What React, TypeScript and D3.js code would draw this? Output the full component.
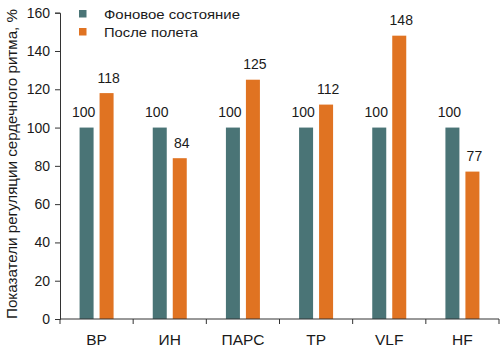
import * as d3 from 'd3'
import React, { useEffect, useRef } from 'react'

const categories = ['ВР', 'ИН', 'ПАРС', 'ТР', 'VLF', 'HF']
const seriesNames = ['Фоновое состояние', 'После полета']
const baseline = [100, 100, 100, 100, 100, 100]
const afterFlight = [118, 84, 125, 112, 148, 77]
const yTicks = [0, 20, 40, 60, 80, 100, 120, 140, 160]
const colors = ['#4a7476', '#e07322']

const width = 502
const height = 352
const font = '"Liberation Sans", Arial, Helvetica, sans-serif'

const App = (): JSX.Element => {
    const ref = useRef<SVGSVGElement>(null)

    useEffect(() => {
        const svg = d3.select(ref.current)
        svg.selectAll('*').remove()

        const left = 60
        const right = 499
        const bottom = 319
        const top = 12.7

        const x = d3.scaleBand().domain(categories).range([left, right])
        const inner = d3.scaleBand().domain(['0', '1']).range([0, 34]).paddingInner(0.3)
        const y = d3.scaleLinear().domain([0, 160]).range([bottom, top])

        const rows = categories.map((c, i) => ({ c, values: [baseline[i], afterFlight[i]] }))

        const groups = svg
            .selectAll('g.cat')
            .data(rows)
            .enter()
            .append('g')
            .attr('class', 'cat')
            .attr('transform', (d) => `translate(${(x(d.c) as number) + x.bandwidth() / 2 - 17},0)`)

        // bars
        groups
            .selectAll('rect')
            .data((d) => d.values.map((v, k) => ({ v, k })))
            .enter()
            .append('rect')
            .attr('x', (d) => inner(String(d.k)) as number)
            .attr('width', inner.bandwidth())
            .attr('y', (d) => y(d.v))
            .attr('height', (d) => bottom - y(d.v))
            .attr('fill', (d) => colors[d.k])

        // value labels, baseline slightly left, after-flight slightly right
        groups
            .selectAll('text')
            .data((d) => d.values.map((v, k) => ({ v, k })))
            .enter()
            .append('text')
            .attr('x', (d) => (inner(String(d.k)) as number) + inner.bandwidth() / 2 + (d.k === 0 ? -3 : 2))
            .attr('y', (d) => y(d.v) - 10.5)
            .attr('text-anchor', 'middle')
            .style('font-family', font)
            .style('font-size', '14px')
            .style('fill', '#1a1a1a')
            .text((d) => d.v)

        // y axis
        const yAxis = svg
            .append('g')
            .attr('transform', `translate(${left},0)`)
            .call(d3.axisLeft(y).tickValues(yTicks).tickSize(5).tickPadding(5))
        yAxis.select('.domain').attr('stroke', '#333')
        yAxis.selectAll('line').attr('stroke', '#333')
        yAxis
            .selectAll('text')
            .style('font-family', font)
            .style('font-size', '14px')
            .style('fill', '#1a1a1a')

        // x axis with ticks on band edges
        const xAxis = svg.append('g').attr('transform', `translate(0,${bottom})`)
        xAxis
            .append('line')
            .attr('x1', left)
            .attr('x2', right)
            .attr('stroke', '#333')
        const edges = categories.map((c) => x(c) as number).concat([right])
        xAxis
            .selectAll('line.tick')
            .data(edges)
            .enter()
            .append('line')
            .attr('class', 'tick')
            .attr('x1', (d) => d)
            .attr('x2', (d) => d)
            .attr('y1', 0)
            .attr('y2', 5)
            .attr('stroke', '#333')
        xAxis
            .selectAll('text')
            .data(categories)
            .enter()
            .append('text')
            .attr('x', (d) => (x(d) as number) + x.bandwidth() / 2)
            .attr('y', 26)
            .attr('text-anchor', 'middle')
            .style('font-family', font)
            .style('font-size', '15.5px')
            .style('fill', '#1a1a1a')
            .text((d) => d)

        // y title
        svg.append('text')
            .attr('transform', `translate(17,164) rotate(-90)`)
            .attr('text-anchor', 'middle')
            .attr('textLength', 310)
            .attr('lengthAdjust', 'spacingAndGlyphs')
            .style('font-family', font)
            .style('font-size', '14px')
            .style('fill', '#1a1a1a')
            .text('Показатели регуляции сердечного ритма, %')

        // legend
        const legend = svg
            .selectAll('g.legend')
            .data(seriesNames)
            .enter()
            .append('g')
            .attr('class', 'legend')
            .attr('transform', (d, i) => `translate(79,${10 + i * 18})`)
        legend
            .append('rect')
            .attr('width', 7.5)
            .attr('height', 7.5)
            .attr('fill', (d, i) => colors[i])
        legend
            .append('text')
            .attr('x', 25)
            .attr('y', 8.5)
            .attr('textLength', (d, i) => (i === 0 ? 136 : 94))
            .attr('lengthAdjust', 'spacingAndGlyphs')
            .style('font-family', font)
            .style('font-size', '13px')
            .style('fill', '#1a1a1a')
            .text((d) => d)
    }, [])

    return (
        <svg
            ref={ref}
            width={width}
            height={height}
            style={{ position: 'absolute', left: 0, top: 0, background: '#fff' }}
        />
    )
}

export default App
